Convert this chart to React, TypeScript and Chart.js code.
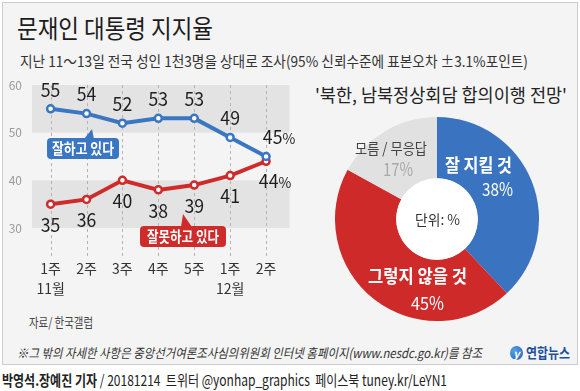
import React, { useEffect, useLayoutEffect, useRef } from 'react';
import { Chart, registerables } from 'chart.js';

Chart.register(...registerables);

const FONT = '"Noto Sans CJK KR", "Noto Sans", sans-serif';

// ---- data ----
const weekLabels = ['1주', '2주', '3주', '4주', '5주', '1주', '2주'];
const monthLabels = ['11월', '', '', '', '', '12월', ''];
const approve = [55, 54, 52, 53, 53, 49, 45];
const disapprove = [35, 36, 40, 38, 39, 41, 44];
const approveName = '잘하고 있다';
const disapproveName = '잘못하고 있다';

const outlookLabels = ['잘 지킬 것', '그렇지 않을 것', '모름 / 무응답'];
const outlookValues = [38, 45, 17];

const BLUE = '#3a76c1';
const RED = '#cf2b2b';
const GRAY = '#e1e1e1';

function drawFit(
  ctx: CanvasRenderingContext2D,
  text: string,
  cx: number,
  cy: number,
  size: number,
  color: string,
  opts: { width?: number; scale?: number; weight?: string; align?: CanvasTextAlign } = {}
) {
  ctx.save();
  ctx.font = `${opts.weight || '400'} ${size}px ${FONT}`;
  const w = ctx.measureText(text).width;
  const s = opts.width ? opts.width / w : opts.scale || 1;
  ctx.translate(cx, cy + size * 0.36);
  ctx.scale(s, 1);
  ctx.fillStyle = color;
  ctx.textAlign = opts.align || 'center';
  ctx.textBaseline = 'alphabetic';
  ctx.fillText(text, 0, 0);
  ctx.restore();
}

function drawNum(ctx: CanvasRenderingContext2D, v: number, pct: boolean, cx: number, cy: number) {
  const size = 19;
  const sx = 0.93;
  ctx.save();
  ctx.font = `400 ${size}px ${FONT}`;
  const wn = ctx.measureText(String(v)).width * sx;
  let wp = 0;
  if (pct) {
    ctx.font = `400 15px ${FONT}`;
    wp = ctx.measureText('%').width * sx;
  }
  const total = wn + wp;
  const left = cx - total / 2;
  ctx.restore();
  drawFit(ctx, String(v), left, cy, size, '#1e1e1e', { scale: sx, align: 'left' });
  if (pct) drawFit(ctx, '%', left + wn, cy + 1.5, 15, '#1e1e1e', { scale: sx, align: 'left' });
}

function callout(
  ctx: CanvasRenderingContext2D,
  box: [number, number, number, number],
  tri: [number, number, number, number, number, number],
  color: string,
  text: string,
  textW: number
) {
  const [x, y, w, h] = box;
  ctx.save();
  ctx.fillStyle = color;
  ctx.beginPath();
  ctx.roundRect(x, y, w, h, 4);
  ctx.fill();
  ctx.beginPath();
  ctx.moveTo(tri[0], tri[1]);
  ctx.lineTo(tri[2], tri[3]);
  ctx.lineTo(tri[4], tri[5]);
  ctx.closePath();
  ctx.fill();
  ctx.restore();
  drawFit(ctx, text, x + w / 2, y + h / 2, 15, '#ffffff', { width: textW, weight: '700' });
}

const linePlugin = {
  id: 'lineDeco',
  beforeDatasetsDraw(chart: any) {
    const { ctx, chartArea: ca, scales } = chart;
    const x = scales.x;
    const y = scales.y;
    ctx.save();
    ctx.fillStyle = '#e3e3e3';
    const bands = [
      [50, 60],
      [30, 40],
    ];
    for (const [a, b] of bands) {
      const y1 = y.getPixelForValue(b);
      const y2 = y.getPixelForValue(a);
      ctx.fillRect(ca.left, y1, ca.right - ca.left, y2 - y1);
    }
    ctx.strokeStyle = '#b4b4b4';
    ctx.lineWidth = 1;
    ctx.setLineDash([3, 3]);
    weekLabels.forEach((_, i) => {
      const px = Math.round(x.getPixelForValue(i)) + 0.5;
      ctx.beginPath();
      ctx.moveTo(px, y.getPixelForValue(60));
      ctx.lineTo(px, y.getPixelForValue(30) + 29);
      ctx.stroke();
    });
    ctx.restore();
  },
  afterDatasetsDraw(chart: any) {
    const { ctx } = chart;
    const last = approve.length - 1;
    const mA = chart.getDatasetMeta(0);
    const mD = chart.getDatasetMeta(1);
    approve.forEach((v, i) => {
      const p = mA.data[i];
      if (i === last) drawNum(ctx, v, true, p.x + 13, p.y - 19);
      else drawNum(ctx, v, false, p.x, p.y - 19);
    });
    disapprove.forEach((v, i) => {
      const p = mD.data[i];
      if (i === last) drawNum(ctx, v, true, p.x + 9, p.y + 20);
      else drawNum(ctx, v, false, p.x, p.y + 21);
    });
    // callouts (canvas top is page y 70)
    callout(ctx, [47, 68, 72, 21], [84, 69, 94, 69, 92, 59], BLUE, approveName, 62);
    callout(ctx, [140, 156, 86, 21], [181, 157, 192, 157, 183, 144], RED, disapproveName, 72);
  },
};

const donutPlugin = {
  id: 'donutDeco',
  afterDatasetsDraw(chart: any) {
    const { ctx } = chart;
    const arc = chart.getDatasetMeta(0).data[0];
    const { x: cx, y: cy, innerRadius } = arc.getProps(['x', 'y', 'innerRadius'], true);
    ctx.save();
    ctx.fillStyle = '#ffffff';
    ctx.beginPath();
    ctx.arc(cx, cy, innerRadius, 0, Math.PI * 2);
    ctx.fill();
    ctx.restore();
    // blue
    drawFit(ctx, outlookLabels[0], cx + 41.5, cy - 53, 18, '#ffffff', { width: 67, weight: '700' });
    drawFit(ctx, outlookValues[0] + '%', cx + 60.5, cy - 29, 18, '#ffffff', { width: 31 });
    // red
    drawFit(ctx, outlookLabels[1], cx - 19.5, cy + 58, 18, '#ffffff', { width: 99, weight: '700' });
    drawFit(ctx, outlookValues[1] + '%', cx - 9.5, cy + 85, 18, '#ffffff', { width: 33 });
    // gray
    drawFit(ctx, outlookLabels[2], cx - 46, cy - 70.5, 15, '#444444', { width: 72 });
    drawFit(ctx, outlookValues[2] + '%', cx - 39, cy - 49, 18, '#a9a9a9', { width: 30 });
    // center
    drawFit(ctx, '단위: %', cx + 0.5, cy + 1, 14, '#333333', { width: 45 });
  },
};

function FitText(props: {
  x: number;
  cy: number;
  size: number;
  width?: number;
  color?: string;
  weight?: number;
  italic?: boolean;
  children: React.ReactNode;
}) {
  const ref = useRef<HTMLDivElement>(null);
  useLayoutEffect(() => {
    const el = ref.current;
    if (!el) return;
    el.style.transform = 'none';
    const w = el.getBoundingClientRect().width;
    if (props.width && w) el.style.transform = `scaleX(${props.width / w})`;
  }, [props.width]);
  return (
    <div
      ref={ref}
      style={{
        position: 'absolute',
        left: props.x,
        top: props.cy - props.size * 0.56,
        fontSize: props.size,
        lineHeight: `${props.size}px`,
        whiteSpace: 'pre',
        color: props.color || '#222',
        fontWeight: props.weight || 400,
        fontStyle: props.italic ? 'italic' : 'normal',
        fontFamily: FONT,
        transformOrigin: 'left top',
      }}
    >
      {props.children}
    </div>
  );
}

export default function App() {
  const lineRef = useRef<HTMLCanvasElement>(null);
  const donutRef = useRef<HTMLCanvasElement>(null);

  useEffect(() => {
    const lc = new Chart(lineRef.current as HTMLCanvasElement, {
      type: 'line',
      data: {
        datasets: [
          {
            label: approveName,
            data: approve.map((v, i) => ({ x: i, y: v })),
            borderColor: BLUE,
            borderWidth: 4,
            pointRadius: 3.5,
            pointBorderWidth: 2.5,
            pointBackgroundColor: '#ffffff',
            pointBorderColor: BLUE,
            tension: 0,
          },
          {
            label: disapproveName,
            data: disapprove.map((v, i) => ({ x: i, y: v })),
            borderColor: RED,
            borderWidth: 4,
            pointRadius: 3.5,
            pointBorderWidth: 2.5,
            pointBackgroundColor: '#ffffff',
            pointBorderColor: RED,
            tension: 0,
          },
        ],
      },
      options: {
        responsive: false,
        maintainAspectRatio: false,
        animation: false,
        events: [],
        layout: { padding: { top: 15, right: 5, left: 0, bottom: 0 } },
        plugins: { legend: { display: false }, tooltip: { enabled: false } },
        scales: {
          x: {
            type: 'linear',
            min: -0.518,
            max: 6.655,
            grid: { display: false },
            border: { display: false },
            afterBuildTicks: (s: any) => {
              s.ticks = weekLabels.map((_, i) => ({ value: i }));
            },
            afterFit: (s: any) => {
              s.height = 82;
            },
            ticks: {
              padding: 23,
              color: '#333333',
              font: { family: FONT, size: 14, lineHeight: 1.43 },
              maxRotation: 0,
              autoSkip: false,
              callback: (v: any) =>
                monthLabels[v] ? [weekLabels[v], monthLabels[v]] : weekLabels[v],
            },
          },
          y: {
            min: 30,
            max: 60,
            grid: { display: false },
            border: { display: false },
            afterFit: (s: any) => {
              s.width = 32;
            },
            ticks: { stepSize: 10, padding: 2, color: '#9a9a9a', font: { family: FONT, size: 12 } },
          },
        },
      } as any,
      plugins: [linePlugin],
    });

    const dc = new Chart(donutRef.current as HTMLCanvasElement, {
      type: 'doughnut',
      data: {
        labels: outlookLabels,
        datasets: [
          {
            data: outlookValues,
            backgroundColor: ['#3a73bf', '#cf2a2a', GRAY],
            borderWidth: 0,
          },
        ],
      },
      options: {
        responsive: false,
        maintainAspectRatio: false,
        animation: false,
        events: [],
        cutout: '40%',
        layout: { padding: 0 },
        plugins: { legend: { display: false }, tooltip: { enabled: false } },
      } as any,
      plugins: [donutPlugin],
    });

    return () => {
      lc.destroy();
      dc.destroy();
    };
  }, []);

  return (
    <div
      style={{
        position: 'fixed',
        left: 0,
        top: 0,
        width: 580,
        height: 391,
        background: '#ffffff',
        overflow: 'hidden',
        fontFamily: FONT,
      }}
    >
      <div
        style={{
          position: 'absolute',
          left: 2,
          top: 2,
          width: 574,
          height: 361,
          background: '#f4f4f4',
          border: '1px solid #cccccc',
        }}
      />
      <FitText x={17} cy={29} size={25} width={196} color="#1c1c1c">
        문재인 대통령 지지율
      </FitText>
      <FitText x={20} cy={61} size={15} width={508} color="#333333">
        지난 11～13일 전국 성인 1천3명을 상대로 조사(95% 신뢰수준에 표본오차 ±3.1%포인트)
      </FitText>
      <FitText x={315} cy={95} size={18} width={252} color="#222222">
        '북한, 남북정상회담 합의이행 전망'
      </FitText>

      <canvas
        ref={lineRef}
        width={300}
        height={240}
        style={{ position: 'absolute', left: 0, top: 70, width: 300, height: 240 }}
      />
      <canvas
        ref={donutRef}
        width={204}
        height={204}
        style={{ position: 'absolute', left: 335, top: 117, width: 204, height: 204 }}
      />

      <FitText x={29} cy={322} size={13} width={64} color="#444444">
        자료/ 한국갤럽
      </FitText>
      <FitText x={17} cy={353} size={13} width={465} color="#333333" italic>
        ※그 밖의 자세한 사항은 중앙선거여론조사심의위원회 인터넷 홈페이지(www.nesdc.go.kr)를 참조
      </FitText>
      <div
        style={{
          position: 'absolute',
          left: 510,
          top: 346,
          width: 13,
          height: 14,
          borderRadius: '50%',
          background: 'radial-gradient(circle at 35% 35%, #5aa0e8, #1d5fb8)',
          color: '#fff',
          fontSize: 11,
          fontStyle: 'italic',
          fontWeight: 700,
          lineHeight: '14px',
          textAlign: 'center',
          fontFamily: FONT,
        }}
      >
        y
      </div>
      <FitText x={526} cy={353} size={14} width={44} color="#1e4f9d" weight={700}>
        연합뉴스
      </FitText>
      <FitText x={2} cy={380} size={15} width={445} color="#222222">
        <span style={{ fontWeight: 700 }}>박영석.장예진 기자</span>
        {' / 20181214  트위터 @yonhap_graphics  페이스북 tuney.kr/LeYN1'}
      </FitText>
    </div>
  );
}
